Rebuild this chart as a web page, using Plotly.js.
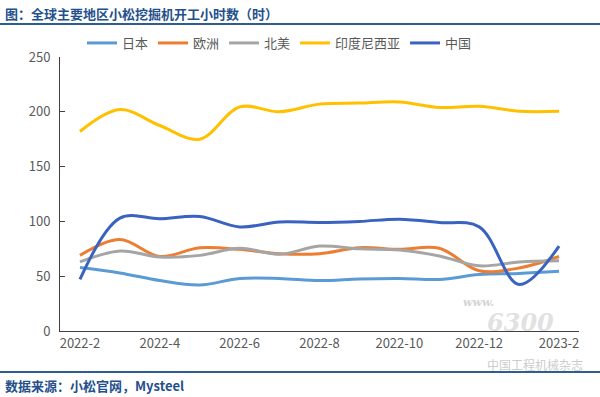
<!DOCTYPE html>
<html>
<head>
<meta charset="utf-8">
<script src="https://cdn.plot.ly/plotly-3.0.1.min.js"></script>
<style>html,body{margin:0;padding:0;background:#fff;}#chart{width:600px;height:397px;}</style>
</head>
<body>
<div id="chart"></div>
<script>
const months = ['2022-2','2022-3','2022-4','2022-5','2022-6','2022-7','2022-8','2022-9','2022-10','2022-11','2022-12','2023-1','2023-2'];
const tickLabels = ['2022-2','2022-4','2022-6','2022-8','2022-10','2022-12','2023-2'];
const japan     = [58, 53, 46, 42, 48, 48, 46, 47.5, 48, 47, 51.5, 52.5, 54.5];
const europe    = [69, 83.5, 68, 76, 74.5, 70.5, 70.5, 76, 74.5, 75.5, 55, 57.5, 68];
const northAm   = [63, 73, 67.5, 69, 75.5, 70, 77.5, 75, 74, 68.5, 59.5, 63, 64];
const indonesia = [182, 202, 187.5, 175, 204.5, 200, 207, 208, 209, 204, 205, 200.5, 200.5];
const china     = [47, 103, 102.5, 104.5, 95, 99.5, 99, 100, 102, 99, 95, 42.5, 77.5];
const seriesNames = ['日本','欧洲','北美','印度尼西亚','中国'];
const seriesData = [japan, europe, northAm, indonesia, china];
const seriesColors = ['#5B9BD5','#ED7D31','#A5A5A5','#FFC000','#3A62C0'];

const font = '"Noto Sans CJK SC", "Noto Sans", sans-serif';
const traces = seriesNames.map((n, i) => ({
  x: months, y: seriesData[i], name: n, type: 'scatter', mode: 'lines',
  line: {color: seriesColors[i], width: 3, shape: 'spline', smoothing: 1},
  hoverinfo: 'skip'
}));

const L = 60, R = 21, T = 57, B = 66, W = 600, H = 397;
const pw = W - L - R, ph = H - T - B;
const px = v => (v - L) / pw;
const py = v => (H - B - v) / ph;

const layout = {
  width: W, height: H,
  margin: {l: L, r: R, t: T, b: B},
  paper_bgcolor: '#fff', plot_bgcolor: '#fff',
  font: {family: font, size: 13, color: '#595959'},
  showlegend: true,
  legend: {orientation: 'h', x: px(82), xanchor: 'left', y: py(43), yanchor: 'middle',
           font: {size: 13, color: '#595959'}, bgcolor: 'rgba(0,0,0,0)'},
  xaxis: {type: 'category', range: [-0.5, months.length - 0.5], tickvals: tickLabels, ticktext: tickLabels,
          showline: true, linecolor: '#404040', linewidth: 1, ticks: '', showgrid: false,
          zeroline: false, tickfont: {size: 13, color: '#595959'}, fixedrange: true},
  yaxis: {range: [0, 250], dtick: 50, showline: true, linecolor: '#404040', linewidth: 1,
          ticks: 'inside', ticklen: 5, tickcolor: '#404040', showgrid: false, zeroline: false,
          ticklabelstandoff: 6, tickfont: {size: 13, color: '#595959'}, fixedrange: true},
  shapes: [
    {type: 'line', xref: 'paper', yref: 'paper', x0: px(0), x1: px(600), y0: py(24), y1: py(24),
     line: {color: '#2E5E8E', width: 2}},
    {type: 'line', xref: 'paper', yref: 'paper', x0: px(0), x1: px(600), y0: py(372), y1: py(372),
     line: {color: '#2E5E8E', width: 2}}
  ],
  annotations: [
    {text: '<b>图：全球主要地区小松挖掘机开工小时数（时）</b>', xref: 'paper', yref: 'paper',
     x: px(3), y: py(14), xanchor: 'left', yanchor: 'middle', showarrow: false,
     font: {family: font, size: 13, color: '#24508C'}},
    {text: '<b>数据来源：小松官网，Mysteel</b>', xref: 'paper', yref: 'paper',
     x: px(3), y: py(385), xanchor: 'left', yanchor: 'middle', showarrow: false,
     font: {family: font, size: 13, color: '#24508C'}},
    {text: '<i><b>www.</b></i>', xref: 'paper', yref: 'paper', x: px(478), y: py(302),
     xanchor: 'center', yanchor: 'middle', showarrow: false,
     font: {family: 'DejaVu Serif', size: 11, color: 'rgba(200,200,200,0.8)'}},
    {text: '<i><b>6300</b></i>', xref: 'paper', yref: 'paper', x: px(520), y: py(322),
     xanchor: 'center', yanchor: 'middle', showarrow: false,
     font: {family: 'DejaVu Serif', size: 24, color: 'rgba(215,215,215,0.75)'}},
    {text: '中国工程机械杂志', xref: 'paper', yref: 'paper', x: px(535), y: py(364),
     xanchor: 'center', yanchor: 'middle', showarrow: false,
     font: {family: font, size: 12, color: 'rgba(190,190,190,0.8)'}}
  ]
};

Plotly.newPlot('chart', traces, layout, {displayModeBar: false, staticPlot: true});
</script>
</body>
</html>
